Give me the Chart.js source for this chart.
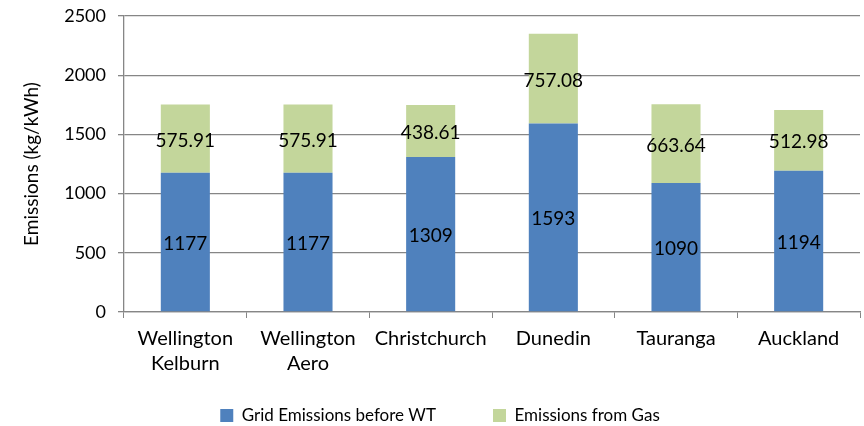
<!DOCTYPE html>
<html>
<head>
<meta charset="utf-8">
<script src="https://cdn.jsdelivr.net/npm/chart.js@4.4.1/dist/chart.umd.min.js"></script>
<style>
  html, body { margin: 0; padding: 0; background: #fff; }
  #wrap { width: 864px; height: 426px; }
</style>
</head>
<body>
<div id="wrap"><canvas id="chart-canvas" width="864" height="426"></canvas></div>
<script>
const categories = [
  ['Wellington', 'Kelburn'],
  ['Wellington', 'Aero'],
  'Christchurch',
  'Dunedin',
  'Tauranga',
  'Auckland'
]
const gridEmissions = [1177, 1177, 1309, 1593, 1090, 1194]
const gasEmissions = [575.91, 575.91, 438.61, 757.08, 663.64, 512.98]
const gridLabels = ['1177', '1177', '1309', '1593', '1090', '1194']
const gasLabels = ['575.91', '575.91', '438.61', '757.08', '663.64', '512.98']

const fontFamily = 'Lato, "Open Sans", sans-serif'
const lineGrey = '#868686'

// draws the value in the middle of each stacked segment
const segmentLabels = {
  id: 'segmentLabels',
  afterDatasetsDraw(chart) {
    const ctx = chart.ctx
    const texts = [gridLabels, gasLabels]
    ctx.save()
    ctx.font = '19px ' + fontFamily
    ctx.fillStyle = '#000'
    ctx.textAlign = 'center'
    ctx.textBaseline = 'middle'
    chart.data.datasets.forEach((ds, i) => {
      const meta = chart.getDatasetMeta(i)
      meta.data.forEach((bar, j) => {
        ctx.fillText(texts[i][j], bar.x, (bar.y + bar.base) / 2 + 2)
      })
    })
    ctx.restore()
  }
}

Chart.defaults.font.family = fontFamily
Chart.defaults.font.size = 18
Chart.defaults.color = '#000'

const ctx = document.querySelector('#chart-canvas')
new Chart(ctx, {
  type: 'bar',
  data: {
    labels: categories,
    datasets: [
      {
        label: 'Grid Emissions before WT',
        data: gridEmissions,
        backgroundColor: '#4F81BD',
        categoryPercentage: 1,
        barPercentage: 0.4
      },
      {
        label: 'Emissions from Gas',
        data: gasEmissions,
        backgroundColor: '#C3D69B',
        categoryPercentage: 1,
        barPercentage: 0.4
      }
    ]
  },
  options: {
    responsive: false,
    animation: false,
    layout: { padding: { left: 20, right: 4, top: 16, bottom: -8 } },
    scales: {
      x: {
        stacked: true,
        grid: {
          drawOnChartArea: false,
          drawTicks: true,
          tickLength: 6,
          color: lineGrey
        },
        border: { color: lineGrey, width: 1.3 },
        ticks: { padding: 8, maxRotation: 0, font: { size: 20, lineHeight: 1.25 } }
      },
      y: {
        stacked: true,
        min: 0,
        max: 2500,
        afterFit(scale) {
          scale.width = 104
          scale.paddingTop = 0
          scale.paddingBottom = 0
        },
        ticks: { stepSize: 500, padding: 12, font: { size: 18 }, callback: v => String(v) },
        grid: { color: lineGrey, lineWidth: 1.3, tickLength: 6 },
        border: { color: lineGrey, width: 1.3 },
        title: {
          display: true,
          text: 'Emissions (kg/kWh)',
          font: { size: 19 },
          padding: { top: 0, bottom: 0 }
        }
      }
    },
    plugins: {
      legend: {
        position: 'bottom',
        labels: {
          boxWidth: 13,
          boxHeight: 13,
          padding: 23,
          font: { size: 17 },
          // wider gap after the first entry, like the original legend
          generateLabels(chart) {
            const items = Chart.defaults.plugins.legend.labels.generateLabels(chart)
            items[0].text = items[0].text + '\u2003\u2003\u2002'
            return items
          }
        }
      },
      tooltip: { enabled: false }
    }
  },
  plugins: [segmentLabels]
})
</script>
</body>
</html>
